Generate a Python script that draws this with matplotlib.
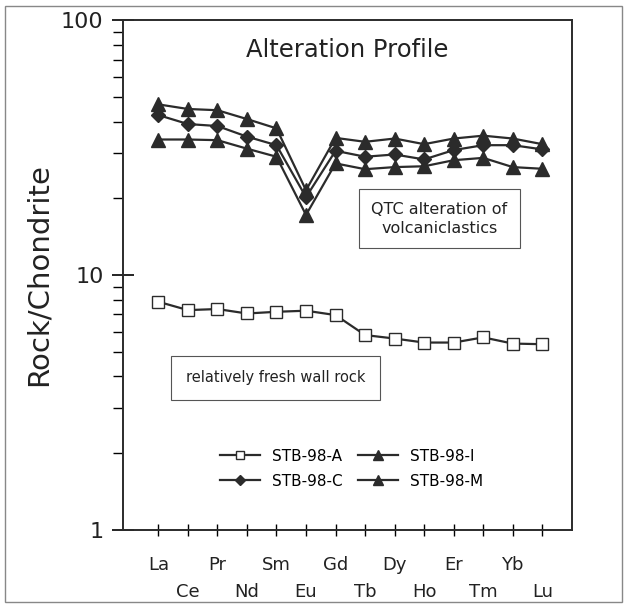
import matplotlib.pyplot as plt
from matplotlib.patches import Rectangle

elements = ["La", "Ce", "Pr", "Nd", "Sm", "Eu", "Gd", "Tb", "Dy", "Ho", "Er", "Tm", "Yb", "Lu"]

stb_a = [7.85, 7.28, 7.35, 7.06, 7.17, 7.24, 6.96, 5.81, 5.63, 5.43, 5.43, 5.69, 5.38, 5.35]
stb_c = [42.4, 39.1, 38.4, 34.9, 32.3, 20.2, 30.7, 29.1, 29.7, 28.4, 30.9, 32.3, 32.3, 31.1]
stb_i = [46.7, 44.8, 44.3, 40.9, 37.6, 21.5, 34.5, 33.3, 34.3, 32.6, 34.3, 35.2, 34.3, 32.6]
stb_m = [34.0, 34.0, 33.8, 31.3, 29.1, 17.2, 27.4, 26.0, 26.5, 26.7, 28.2, 28.8, 26.5, 26.1]

plt.rcParams["font.family"] = "DejaVu Sans"

fig = plt.figure(figsize=(6.27, 6.09), dpi=100)
ax = fig.add_axes([0.196, 0.130, 0.716, 0.837])

x = list(range(len(elements)))
lc = "#2b2b2b"
ax.plot(x, stb_a, color=lc, lw=1.6, marker="s", ms=8.5, mfc="white", mec=lc, mew=1.0, label="STB-98-A")
ax.plot(x, stb_c, color=lc, lw=1.6, marker="D", ms=7, mfc=lc, mec=lc, label="STB-98-C")
ax.plot(x, stb_i, color=lc, lw=1.6, marker="^", ms=9.5, mfc=lc, mec=lc, label="STB-98-I")
ax.plot(x, stb_m, color=lc, lw=1.6, marker="^", ms=9.5, mfc=lc, mec=lc, label="STB-98-M")

ax.set_yscale("log")
ax.set_ylim(1, 100)
ax.set_xlim(-1.2, 14.0)
ax.set_yticks([1, 10, 100])
ax.set_yticklabels(["1", "10", "100"], fontsize=16, color="#222222")
ax.tick_params(axis="y", which="major", direction="inout", length=16, width=1.2, pad=6)
ax.tick_params(axis="y", which="minor", direction="out", length=7, width=1.0, labelleft=False)
ax.yaxis.set_minor_formatter(plt.NullFormatter())

ax.set_xticks(x)
ax.set_xticklabels(elements, fontsize=13, color="#222222")
ax.tick_params(axis="x", which="major", direction="inout", length=9, width=1.0, pad=14)
ax.tick_params(axis="x", which="minor", bottom=False)
for t in ax.xaxis.get_major_ticks()[1::2]:
    t.set_pad(34)

for s in ax.spines.values():
    s.set_linewidth(1.4)
    s.set_color(lc)

ax.set_ylabel("Rock/Chondrite", fontsize=21, color="#222222", labelpad=6)
ax.text(0.5, 0.942, "Alteration Profile", transform=ax.transAxes, ha="center", va="center",
        fontsize=17.5, color="#222222")

ax.text(0.705, 0.61, "QTC alteration of\nvolcaniclastics", transform=ax.transAxes, ha="center",
        va="center", fontsize=11.5, color="#222222", linespacing=1.3,
        bbox=dict(boxstyle="square,pad=0.8", fc="white", ec="#555555", lw=0.8))
ax.text(0.34, 0.298, "relatively fresh wall rock", transform=ax.transAxes, ha="center",
        va="center", fontsize=10.5, color="#222222",
        bbox=dict(boxstyle="square,pad=1.0", fc="white", ec="#555555", lw=0.8))

ax.legend(ncol=2, loc="center", bbox_to_anchor=(0.51, 0.12), frameon=False, fontsize=11,
          handlelength=2.6, columnspacing=1.0, labelspacing=0.65, markerscale=0.75)

fig.patches.append(Rectangle((0.008, 0.012), 0.984, 0.978, transform=fig.transFigure,
                             fill=False, ec="#888888", lw=1.0))

fig.savefig("out.png", dpi=100)
